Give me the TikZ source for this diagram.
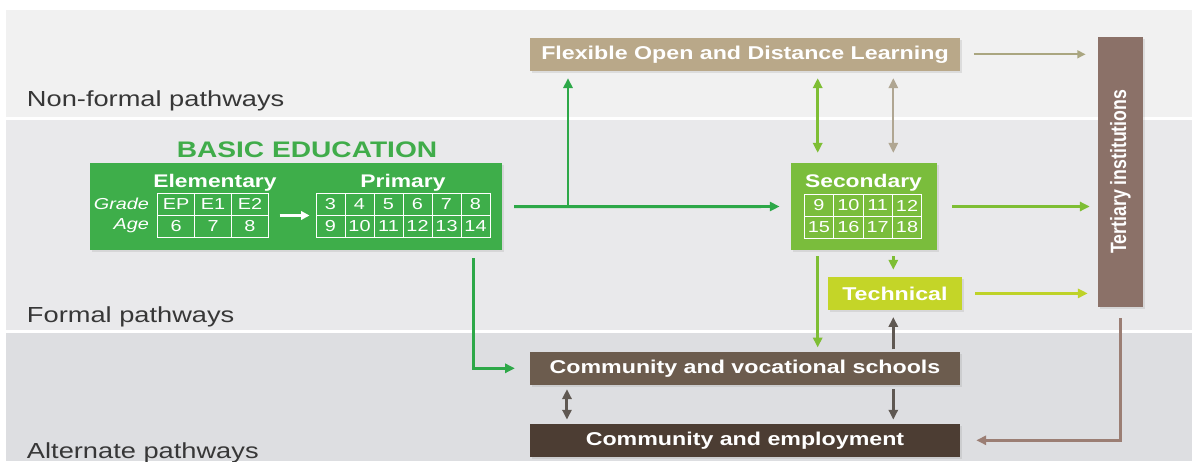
\documentclass[tikz,border=0pt]{standalone}
\usepackage{fontspec}
\setmainfont{Liberation Sans}[FakeStretch=1.25]
\newfontfamily\tertfont{Liberation Sans}
\usetikzlibrary{arrows.meta, positioning, shadows}

\definecolor{bandtop}{RGB}{241,241,241}
\definecolor{bandmid}{RGB}{233,233,235}
\definecolor{bandlow}{RGB}{221,222,225}
\definecolor{lanetext}{RGB}{55,55,55}
\definecolor{basicgreen}{RGB}{62,174,74}
\definecolor{basictitle}{RGB}{64,172,74}
\definecolor{secgreen}{RGB}{122,189,60}
\definecolor{techgreen}{RGB}{196,213,40}
\definecolor{fodltan}{RGB}{185,168,137}
\definecolor{tertbrown}{RGB}{139,113,104}
\definecolor{vocbrown}{RGB}{108,92,78}
\definecolor{empbrown}{RGB}{76,61,51}
\definecolor{basicarrow}{RGB}{45,168,72}
\definecolor{secarrow}{RGB}{126,190,52}
\definecolor{techarrow}{RGB}{190,210,40}
\definecolor{fodlarrow}{RGB}{170,166,128}
\definecolor{tanarrow}{RGB}{176,166,146}
\definecolor{tertarrow}{RGB}{155,126,116}
\definecolor{grayarrow}{RGB}{95,88,82}

\newcommand\lanefont{\fontsize{15.5}{18}\selectfont}
\newcommand\basicfont{\fontsize{16}{19}\selectfont\bfseries}
\newcommand\headfont{\fontsize{13}{15}\selectfont\bfseries}
\newcommand\boxtextfont{\fontsize{13.2}{15}\selectfont\bfseries}
\newcommand\cellfont{\fontsize{11.3}{13}\selectfont}

\begin{document}
\begin{tikzpicture}[x=0.025cm, y=-0.025cm,
  >={Triangle[length=7pt, width=6.5pt]},
  box/.style={inner sep=0pt, text=white, font=\boxtextfont,
    drop shadow={shadow xshift=1.3pt, shadow yshift=-1.5pt, opacity=0.18}},
  cell/.style={draw=white, line width=0.7pt, minimum height=0.55cm, inner sep=0pt, text=white, font=\cellfont},
  lane/.style={anchor=base west, text=lanetext, font=\lanefont},
  head/.style={anchor=base, text=white, font=\headfont},
  link/.style={line width=2.1pt, ->, shorten <=0.3cm, shorten >=0.27cm}]
  \useasboundingbox (0,0) rectangle (1192,461);

  % Bandes
  \fill[white] (0,0) rectangle (1192,461);
  \fill[bandtop] (6,10) rectangle (1192,117);
  \fill[bandmid] (6,120) rectangle (1192,330);
  \fill[bandlow] (6,333) rectangle (1192,461);
  \node[lane] (nonformal) at (22,106) {Non-formal pathways};
  \node[lane] (formal) at (22,322) {Formal pathways};
  \node[lane] (alternate) at (22,458) {Alternate pathways};

  % Education de base
  \node[anchor=base, text=basictitle, font=\basicfont] (basictitle) at (307,157) {BASIC EDUCATION};
  \node[box, fill=basicgreen, minimum width=10.29cm, minimum height=2.17cm] (basic) at (296,206.7) {};
  \node[head] (elemtitle) at (215,187) {Elementary};
  \node[head] (primtitle) at (403,187) {Primary};
  \node[anchor=east, text=white, font=\cellfont\itshape] (gradelbl) at (154,204) {Grade};
  \node[anchor=east, text=white, font=\cellfont\itshape] (agelbl) at (154,226) {Age};
  \foreach \g [count=\i] in {EP,E1,E2}
    \node[cell, minimum width=0.92cm] (elg\i) at ({157.7+36.9*(\i-0.5)},204) {\g};
  \foreach \a [count=\i] in {6,7,8}
    \node[cell, minimum width=0.92cm] (ela\i) at ({157.7+36.9*(\i-0.5)},226) {\a};
  \foreach \g [count=\i] in {3,4,5,6,7,8}
    \node[cell, minimum width=0.725cm] (prg\i) at ({316+29*(\i-0.5)},204) {\g};
  \foreach \a [count=\i] in {9,10,11,12,13,14}
    \node[cell, minimum width=0.725cm] (pra\i) at ({316+29*(\i-0.5)},226) {\a};
  \draw[white, line width=2.4pt, ->, >={Triangle[length=6pt, width=6pt]}, shorten <=0.27cm, shorten >=0.15cm]
    (elg3.south east) -- (prg1.south west);

  % Secondaire et technique
  \node[box, fill=secgreen, minimum width=3.65cm, minimum height=2.17cm] (secondary) at (863.7,206.5) {};
  \node[head] (sectitle) at (863.5,187) {Secondary};
  \foreach \g [count=\i] in {9,10,11,12}
    \node[cell, minimum width=0.734cm] (seg\i) at ({804.3+29.35*(\i-0.5)},205.5) {\g};
  \foreach \a [count=\i] in {15,16,17,18}
    \node[cell, minimum width=0.734cm] (sea\i) at ({804.3+29.35*(\i-0.5)},227.5) {\a};
  \node[box, fill=techgreen, minimum width=3.34cm, minimum height=0.83cm] (technical) at (894.9,293.4) {Technical};

  % Autres blocs
  \node[box, fill=fodltan, minimum width=10.75cm, minimum height=0.82cm] (fodl) at (745,54.3) {Flexible Open and Distance Learning};
  \node[box, fill=tertbrown, minimum width=1.12cm, minimum height=6.75cm,
    label={[rotate=90, text=white, font=\fontsize{12.6}{15}\selectfont\bfseries]center:{\tertfont\scalebox{1}[1.25]{Tertiary institutions}}}] (tertiary) at (1120.4,171.7) {};
  \node[box, fill=vocbrown, minimum width=10.75cm, minimum height=0.83cm] (vocational) at (745,368.3) {Community and vocational schools};
  \node[box, fill=empbrown, minimum width=10.75cm, minimum height=0.82cm] (employment) at (745,440.3) {Community and employment};

  % Fleches
  \coordinate (split) at (568,206.7);
  \coordinate (secleft) at ([xshift=-1.15cm]secondary.north);
  \coordinate (secright) at ([xshift=0.74cm]secondary.north);
  \coordinate (vocleft) at ([xshift=-4.45cm]vocational.south);
  \draw[link, basicarrow] (basic.east) -- (secondary.west);
  \draw[link, basicarrow, shorten <=0pt, shorten >=0.18cm] (split) -- (split |- fodl.south);
  \draw[link, basicarrow, shorten <=0.2cm, shorten >=0.37cm] ([xshift=4.425cm]basic.south) |- (vocational.west);
  \draw[link, <->, secarrow, shorten <=0.25cm, shorten >=0.18cm] (secleft) -- (secleft |- fodl.south);
  \draw[link, <->, tanarrow, line width=1.6pt, shorten <=0.25cm, shorten >=0.18cm] (secright) -- (secright |- fodl.south);
  \draw[link, secarrow, shorten <=0.15cm, shorten >=0.1cm] (secleft |- secondary.south) -- (secleft |- vocational.north);
  \draw[link, secarrow, shorten <=0.15cm, shorten >=0.17cm] (secright |- secondary.south) -- (secright |- technical.north);
  \draw[link, grayarrow, shorten <=0.05cm, shorten >=0.17cm] (secright |- vocational.north) -- (secright |- technical.south);
  \draw[link, grayarrow, shorten <=0.1cm, shorten >=0.1cm] (secright |- vocational.south) -- (secright |- employment.north);
  \draw[link, <->, grayarrow, shorten <=0.1cm, shorten >=0.1cm] (vocleft) -- (vocleft |- employment.north);
  \draw[link, fodlarrow, line width=1.6pt, >={Triangle[length=6pt, width=5.5pt]}, shorten <=0.34cm, shorten >=0.3cm]
    (fodl.east) -- (fodl.east -| tertiary.west);
  \draw[link, secarrow, shorten <=0.38cm, shorten >=0.2cm] (secondary.east) -- (secondary.east -| tertiary.west);
  \draw[link, techarrow, shorten <=0.33cm, shorten >=0.25cm] (technical.east) -- (technical.east -| tertiary.west);
  \draw[link, tertarrow, line width=1.8pt, shorten <=0.28cm, shorten >=0.4cm] (tertiary.south) |- (employment.east);
\end{tikzpicture}
\end{document}
